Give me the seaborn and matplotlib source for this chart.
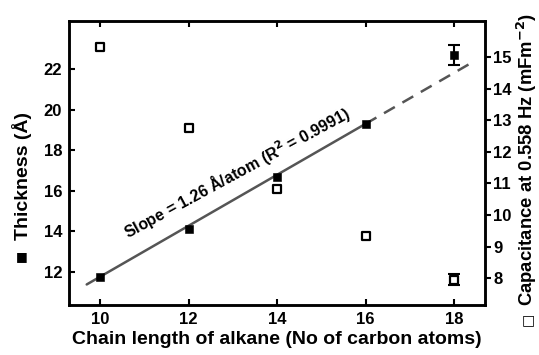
import matplotlib
matplotlib.use("Agg")
import matplotlib.pyplot as plt
import seaborn as sns
import numpy as np
import pandas as pd

chain = [10, 12, 14, 16, 18]
thickness = [11.75, 14.12, 16.69, 19.28, 22.7]
thickness_err = [0, 0, 0, 0, 0.5]
capacitance = [15.32, 12.76, 10.82, 9.34, 7.95]
capacitance_err = [0, 0, 0, 0, 0.17]
slope = 1.26
intercept = -0.86
fit_solid_x = [9.7, 16.0]
fit_dash_x = [16.0, 18.36]

sns.set_theme(style="white")
plt.rcParams['font.family'] = ['Liberation Sans', 'DejaVu Sans']
plt.rcParams['font.weight'] = 'bold'
for k in ['text.color', 'axes.labelcolor', 'xtick.color', 'ytick.color', 'axes.edgecolor']:
    plt.rcParams[k] = 'black'

fig = plt.figure(figsize=(5.39, 3.55), dpi=100)
ax = fig.add_axes([0.128, 0.141, 0.772, 0.801])
ax2 = ax.twinx()

df = pd.DataFrame({"chain": chain, "thickness": thickness, "cap": capacitance})

# fit line
fs = pd.DataFrame({"x": fit_solid_x, "y": [slope * x + intercept for x in fit_solid_x]})
fd = pd.DataFrame({"x": fit_dash_x, "y": [slope * x + intercept for x in fit_dash_x]})
sns.lineplot(data=fs, x="x", y="y", ax=ax, color="#555555", lw=1.8, zorder=2)
sns.lineplot(data=fd, x="x", y="y", ax=ax, color="#555555", lw=1.8, linestyle=(0, (5, 3.5)), zorder=2)

# error bars
ax.errorbar(chain[-1:], thickness[-1:], yerr=thickness_err[-1:], fmt="none",
            ecolor="black", elinewidth=1.5, capsize=4, capthick=1.5, zorder=3)
ax2.errorbar(chain[-1:], capacitance[-1:], yerr=capacitance_err[-1:], fmt="none",
             ecolor="black", elinewidth=1.5, capsize=4, capthick=1.5, zorder=3)

sns.scatterplot(data=df, x="chain", y="thickness", ax=ax, marker="s", s=28,
                color="black", edgecolor="black", zorder=4)
sns.scatterplot(data=df, x="chain", y="cap", ax=ax2, marker="s", s=40,
                facecolor="white", edgecolor="black", linewidth=1.6, zorder=4)

ax.set_xlim(9.3, 18.7)
ax.set_ylim(10.35, 24.4)
ax2.set_ylim(7.15, 16.16)
ax.set_xticks([10, 12, 14, 16, 18])
ax.set_yticks([12, 14, 16, 18, 20, 22])
ax2.set_yticks([8, 9, 10, 11, 12, 13, 14, 15])

ax.tick_params(axis="x", direction="in", top=True, bottom=True, length=4, width=1.5, labelsize=12, pad=5)
ax.tick_params(axis="y", direction="in", left=True, length=4, width=1.5, labelsize=12, pad=5)
ax2.tick_params(axis="y", direction="out", right=True, length=4, width=1.5, labelsize=12, pad=2)

for a in (ax, ax2):
    for sp in a.spines.values():
        sp.set_linewidth(1.8)
        sp.set_color("black")

ax.set_xlabel("Chain length of alkane (No of carbon atoms)", fontsize=14, fontweight="bold", labelpad=3)
ax.set_ylabel("Thickness (Å)", fontsize=14, fontweight="bold")
ax.yaxis.set_label_coords(-0.089, 0.452)
ax2.set_ylabel("Capacitance at 0.558 Hz (mFm$^{\\mathbf{-2}}$)", fontsize=13.3, fontweight="bold")
ax2.yaxis.set_label_coords(1.072, 0.513)

# legend-like symbols in the axis labels
fig.text(0.041, 0.276, "■", fontsize=9, ha="center", va="center",
         family=['DejaVu Sans'], fontweight="bold")
fig.text(0.981, 0.099, "□", fontsize=10, ha="center", va="center",
         family=['DejaVu Sans'], fontweight="bold")

ax.text(13.1, 16.9, "Slope = 1.26 Å/atom (R$^{\\mathbf{2}}$ = 0.9991)", rotation=28.5,
        rotation_mode="anchor", ha="center", va="center", fontsize=11.5, fontweight="bold",
        color="black")

fig.savefig("out.png", dpi=100)
